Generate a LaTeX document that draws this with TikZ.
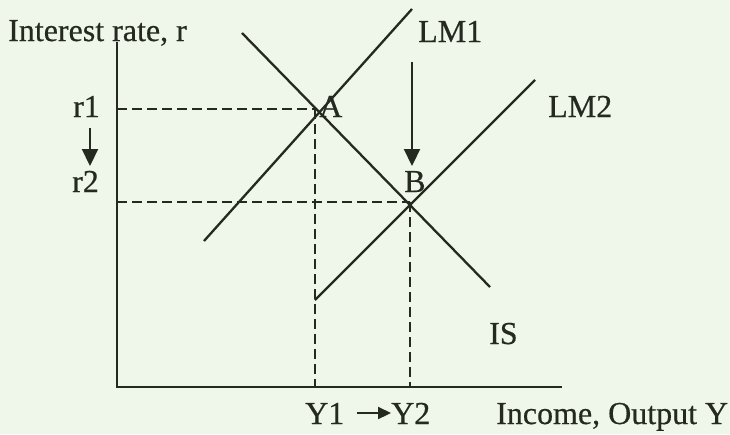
\documentclass[tikz,border=0pt]{standalone}
\usepackage{fontspec}
\setmainfont{Liberation Serif}[FakeBold=0.5]
\usetikzlibrary{arrows.meta}
\definecolor{ink}{RGB}{36,42,32}
\definecolor{bg}{RGB}{238,247,233}
\begin{document}
\begin{tikzpicture}[x=1pt,y=-1pt,
  lbl/.style={anchor=base west,inner sep=0pt,text=ink,font=\fontsize{32}{38}\selectfont},
  curve/.style={draw=ink,line width=2.3pt},
  axisline/.style={draw=ink,line width=2.6pt},
  guide/.style={draw=ink,line width=2.6pt,dash pattern=on 10pt off 5pt},
  bigarrow/.style={draw=ink,line width=2.2pt,-{Triangle[length=17pt,width=16pt]}},
  smallarrow/.style={draw=ink,line width=2.2pt,-{Triangle[length=13pt,width=12pt]}}]
\fill[bg] (0,0) rectangle (730,434);
\useasboundingbox (0,0) rectangle (730,434);
% axes
\coordinate (O) at (117,387);
\coordinate (ytop) at (117,42);
\coordinate (xend) at (562,387);
\draw[axisline] (ytop) -- (O) -- (xend);
% equilibrium points
\coordinate (A) at (315,109);
\coordinate (B) at (410,202);
\coordinate (r1p) at (117,109);
\coordinate (r2p) at (117,202);
\coordinate (y1p) at (315,387);
\coordinate (y2p) at (410,387);
% guides
\draw[guide] (r1p) -- (A);
\draw[guide] (r2p) -- (B);
\draw[guide] (A) -- (y1p);
\draw[guide] (B) -- (y2p);
% curves
\coordinate (IS1) at (242,33);
\coordinate (IS2) at (490,287);
\coordinate (LMa1) at (204,241);
\coordinate (LMa2) at (412,9);
\coordinate (LMb1) at (315,300);
\coordinate (LMb2) at (535,80);
\draw[curve] (IS1) -- (IS2);
\draw[curve] (LMa1) -- (LMa2);
\draw[curve] (LMb1) -- (LMb2);
% labels
\node[lbl] (ylab) at (8,41) {Interest rate, r};
\node[lbl] (lm1) at (418,42) {LM1};
\node[lbl] (lm2) at (548,117) {LM2};
\node[lbl] (alab) at (319,117) {A};
\node[lbl] (blab) at (404,192) {B};
\node[lbl] (r1) at (73,117) {r1};
\node[lbl] (r2) at (72,192) {r2};
\node[lbl] (is) at (489,344) {IS};
\node[lbl] (y1) at (305,424) {Y1};
\node[lbl] (y2) at (391,424) {Y2};
\node[lbl] (xlab) at (496,424) {Income, Output Y};
% shift arrows
\coordinate (ra1) at (90,128);
\coordinate (ra2) at (90,166);
\draw[bigarrow] (ra1) -- (ra2);
\coordinate (la1) at (412,62);
\coordinate (la2) at (412,166);
\draw[bigarrow] (la1) -- (la2);
\coordinate (ya1) at (357,413);
\coordinate (ya2) at (391,413);
\draw[smallarrow] (ya1) -- (ya2);
\end{tikzpicture}
\end{document}
